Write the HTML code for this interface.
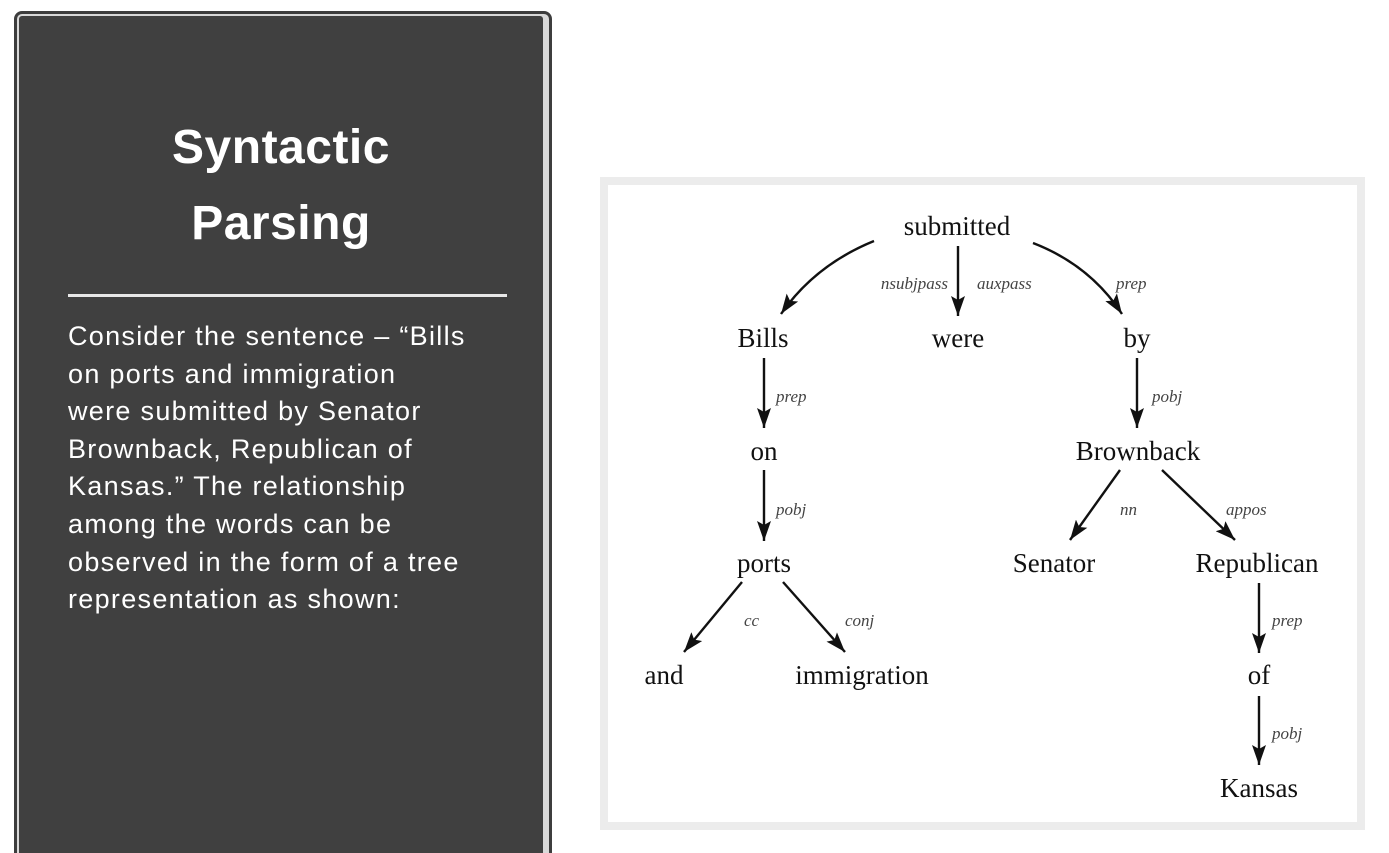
<!DOCTYPE html>
<html><head><meta charset="utf-8"><style>
html{height:853px;overflow:hidden}
body{margin:0;width:1389px;height:853px;background:#fff;position:relative;overflow:hidden;font-family:"Liberation Sans",sans-serif}
.outer{position:absolute;left:14px;top:11px;width:532px;height:860px;border:3px solid #3d3d3d;border-radius:8px;background:#d9d9d9}
.inner{position:absolute;left:19px;top:16px;width:524px;height:850px;background:#404040;border-radius:3px}
.title{position:absolute;left:19px;width:524px;top:110px;text-align:center;color:#fff;font-weight:bold;font-size:48px;letter-spacing:0.5px;line-height:76px}
.rule{position:absolute;left:68px;top:294px;width:439px;height:3px;background:#e8e8e8}
.body{position:absolute;left:68px;top:318px;width:480px;color:#fff;font-size:27px;letter-spacing:1.3px;line-height:37.6px;white-space:nowrap}
.diag{position:absolute;left:600px;top:177px;width:749px;height:637px;border:8px solid #ececec;background:#fff}
</style></head><body>
<div class="outer"></div><div class="inner"></div>
<div class="title">Syntactic<br>Parsing</div>
<div class="rule"></div>
<div class="body">Consider the sentence – “Bills<br>on ports and immigration<br>were submitted by Senator<br>Brownback, Republican of<br>Kansas.” The relationship<br>among the words can be<br>observed in the form of a tree<br>representation as shown:</div>
<div class="diag"></div>
<svg width="1389" height="853" style="position:absolute;left:0;top:0">
<defs><marker id="a" markerWidth="22" markerHeight="14" refX="20" refY="7" orient="auto" markerUnits="userSpaceOnUse"><path d="M0,0 L20,7 L0,14 L4,7z" fill="#111"/></marker></defs>
<g stroke="#111" stroke-width="2.4" fill="none" marker-end="url(#a)">
<path d="M874,241 Q815,265 781,314"/>
<path d="M958,246 L958,316"/>
<path d="M1033,243 Q1090,265 1122,314"/>
<path d="M764,358 L764,428"/>
<path d="M764,470 L764,541"/>
<path d="M742,582 L684,652"/>
<path d="M783,582 L845,652"/>
<path d="M1137,358 L1137,428"/>
<path d="M1120,470 L1070,540"/>
<path d="M1162,470 L1235,540"/>
<path d="M1259,583 L1259,653"/>
<path d="M1259,696 L1259,765"/>
</g>
<g font-family="Liberation Serif,serif" font-size="27" fill="#111" text-anchor="middle">
<text x="957" y="235">submitted</text>
<text x="763" y="347">Bills</text>
<text x="958" y="347">were</text>
<text x="1137" y="347">by</text>
<text x="764" y="460">on</text>
<text x="1138" y="460">Brownback</text>
<text x="764" y="572">ports</text>
<text x="1054" y="572">Senator</text>
<text x="1257" y="572">Republican</text>
<text x="664" y="684">and</text>
<text x="862" y="684">immigration</text>
<text x="1259" y="684">of</text>
<text x="1259" y="797">Kansas</text>
</g>
<g font-family="Liberation Serif,serif" font-style="italic" font-size="17" fill="#444">
<text x="948" y="289" text-anchor="end">nsubjpass</text>
<text x="977" y="289">auxpass</text>
<text x="1116" y="289">prep</text>
<text x="776" y="402">prep</text>
<text x="776" y="515">pobj</text>
<text x="744" y="626">cc</text>
<text x="845" y="626">conj</text>
<text x="1152" y="402">pobj</text>
<text x="1120" y="515">nn</text>
<text x="1226" y="515">appos</text>
<text x="1272" y="626">prep</text>
<text x="1272" y="739">pobj</text>
</g>
</svg>
</body></html>
